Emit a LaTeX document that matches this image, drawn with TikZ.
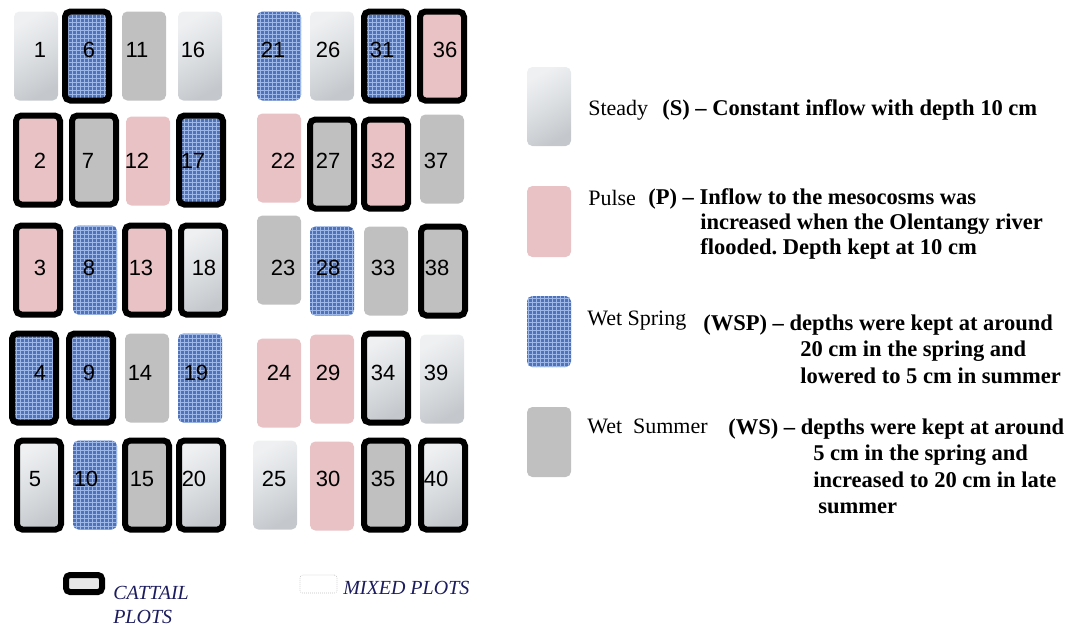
\documentclass[tikz,border=0pt]{standalone}
\usepackage{fontspec}
\setmainfont{Liberation Serif}
\newfontfamily\plotfont{Liberation Sans}
\usetikzlibrary{positioning,patterns}
\frenchspacing
\definecolor{marblelt}{HTML}{EEF0F2}
\definecolor{marbledk}{HTML}{C4C8CC}
\definecolor{pulsepink}{HTML}{E8C2C5}
\definecolor{wspblue}{HTML}{4F72B8}
\definecolor{wspfleck}{HTML}{9DB8E8}
\definecolor{wsgrey}{HTML}{C0C0C0}
\definecolor{keynavy}{HTML}{1C1C5E}

\tikzset{
  plotbox/.style={rectangle,rounded corners=4pt,inner sep=0pt,minimum width=33pt,minimum height=66.75pt},
  sflow/.style={top color=marblelt,bottom color=marbledk,middle color=marblelt!55!marbledk,shading angle=30},
  pflow/.style={fill=pulsepink},
  wspflow/.style={preaction={fill=wspblue},pattern=grid,pattern color=wspfleck},
  wsflow/.style={fill=wsgrey},
  cattail/.style={draw=black,line width=4.5pt},
  mixed/.style={},
  plotnum/.style={inner sep=0pt,font=\plotfont\fontsize{16.5}{19}\selectfont},
  legtext/.style={inner sep=0pt,anchor=base west,font=\fontsize{16.5}{20}\selectfont},
  legbold/.style={legtext,font=\fontsize{16.9}{20}\selectfont\bfseries},
  keytext/.style={inner sep=0pt,anchor=base west,text=keynavy,font=\fontsize{15}{18}\selectfont\itshape}
}

\begin{document}
\begin{tikzpicture}[x=0.75pt,y=-0.75pt]
  \useasboundingbox (0,0) rectangle (1070,626);
  % mesocosm plots: number / centre / number position / flow / vegetation
  \foreach \n/\x/\y/\lx/\ly/\kind/\veg in {
      1/36/56/40/50/sflow/mixed, 6/87/56/89/50/wspflow/cattail, 11/144/56/137/50/wsflow/mixed, 16/200/56/193/50/sflow/mixed,
      2/38/160/40/161/pflow/cattail, 7/94/160/88/161/wsflow/cattail, 12/148/161/137/161/pflow/mixed, 17/201/160/193/161/wspflow/cattail,
      3/38/270/40/268/pflow/cattail, 8/95/270/89/268/wspflow/mixed, 13/147/270/141/268/pflow/cattail, 18/203/270/204/268/sflow/cattail,
      4/34/378/40/373/wspflow/cattail, 9/91/378/89/373/wspflow/cattail, 14/147/378/140/373/wsflow/mixed, 19/200/378/196/373/wspflow/mixed,
      5/39/485/35/479/sflow/cattail, 10/95/485/86/479/wspflow/mixed, 15/147/485/142/479/wsflow/cattail, 20/201/485/194/479/sflow/cattail,
      21/279/56/273/50/wspflow/mixed, 26/332/56/328/50/sflow/mixed, 31/386/56/382/50/wspflow/cattail, 36/442/56/445/50/pflow/cattail,
      22/279/158/283/161/pflow/mixed, 27/332/164/328/161/wsflow/cattail, 32/386/164/383/161/pflow/cattail, 37/442/159/436/161/wsflow/mixed,
      23/279/260/283/268/wsflow/mixed, 28/332/271/328/268/wspflow/mixed, 33/386/271/383/268/wsflow/mixed, 38/443/271/437/268/wsflow/cattail,
      24/279/383/279/373/pflow/mixed, 29/332/379/328/373/pflow/mixed, 34/386/378/383/373/sflow/cattail, 39/442/379/436/373/sflow/mixed,
      25/275/485/274/479/sflow/mixed, 30/332/486/328/479/pflow/mixed, 35/386/485/383/479/wsflow/cattail, 40/443/485/436/479/sflow/cattail}{
    \node[plotbox,\kind,\veg] (p\n) at (\x,\y) {};
    \node[plotnum] (n\n) at (\lx,\ly) {\n};
  }

  % flow regime key
  \node[plotbox,sflow,minimum height=59.25pt] (keyS) at (549,106.5) {};
  \node[legtext] (nameS) at (588,115) {Steady};
  \node[legbold] (descS) at (662,115) {(S) -- Constant inflow with depth 10 cm};

  \node[plotbox,pflow,minimum height=53.25pt] (keyP) at (549,221.5) {};
  \node[legtext] (nameP) at (588,205) {Pulse};
  \node[legbold] (descP) at (648,204) {(P) -- Inflow to the mesocosms was};
  \node[legbold] (descPb) at (700,229) {increased when the Olentangy river};
  \node[legbold] (descPc) at (700,254) {flooded. Depth kept at 10 cm};

  \node[plotbox,wspflow,minimum height=53.25pt] (keyWSP) at (549,331.5) {};
  \node[legtext] (nameWSP) at (587,325) {Wet Spring};
  \node[legbold] (descWSP) at (703,330) {(WSP) -- depths were kept at around};
  \node[legbold] (descWSPb) at (800,356) {20 cm in the spring and};
  \node[legbold] (descWSPc) at (800,383) {lowered to 5 cm in summer};

  \node[plotbox,wsflow,minimum height=52.5pt] (keyWS) at (549,442) {};
  \node[legtext] (nameWS) at (587,433) {Wet\ \ Summer};
  \node[legbold] (descWS) at (728,434) {(WS) -- depths were kept at around};
  \node[legbold] (descWSb) at (813,460) {5 cm in the spring and};
  \node[legbold] (descWSc) at (813,487) {increased to 20 cm in late};
  \node[legbold] (descWSd) at (818,513) {summer};

  % vegetation key
  \node[rectangle,rounded corners=3pt,inner sep=0pt,minimum width=27pt,minimum height=12.75pt,fill=black!9,cattail] (keyC) at (84,583.5) {};
  \node[keytext] (nameC) at (113,599) {CATTAIL};
  \node[keytext] (nameCb) at (113,623) {PLOTS};
  \node[rectangle,rounded corners=2pt,inner sep=0pt,minimum width=27.75pt,minimum height=13.5pt,draw=black!25,densely dotted,line width=0.5pt] (keyM) at (318.5,584) {};
  \node[keytext] (nameM) at (343,594) {MIXED PLOTS};
\end{tikzpicture}
\end{document}
